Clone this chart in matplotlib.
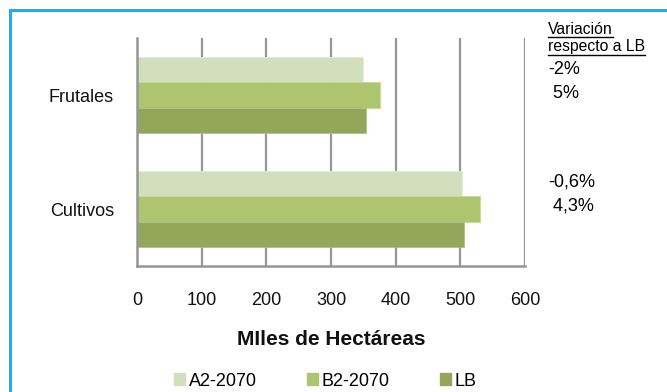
import numpy as np
import matplotlib.pyplot as plt
from matplotlib.patches import Patch, Rectangle
from matplotlib.lines import Line2D

plt.rcParams['font.family'] = ['Liberation Sans', 'DejaVu Sans']

# data
categories = ['Cultivos', 'Frutales']
series = ['A2-2070', 'B2-2070', 'LB']
a2_2070 = [502, 350]
b2_2070 = [531, 375]
lb = [506, 354]
variacion = [['-0,6%', ' 4,3%'], ['-2%', ' 5%']]
colors = ['#d2dfbc', '#adc56f', '#93a75a']
grey = '#969696'

fig = plt.figure(figsize=(6.67, 3.92), dpi=100)
ax = fig.add_axes([137 / 667, 1 - 266 / 392, 388 / 667, 228 / 392])

y = np.arange(len(categories))
h = 0.225
ax.barh(y + h, a2_2070, height=h, color=colors[0], edgecolor='#e4ecd6', linewidth=0.6, zorder=3)
ax.barh(y, b2_2070, height=h, color=colors[1], edgecolor='#c4d89a', linewidth=0.6, zorder=3)
ax.barh(y - h, lb, height=h, color=colors[2], edgecolor='#b0c284', linewidth=0.6, zorder=3)

ax.set_xlim(0, 600)
ax.set_ylim(-0.5, 1.5)
ax.set_xticks(range(0, 601, 100))
ax.set_yticks(y)
ax.set_yticklabels(categories)
ax.tick_params(axis='x', length=0, pad=19, labelsize=13, colors='#111111')
ax.tick_params(axis='y', length=0, pad=16.5, labelsize=13, colors='#111111')
ax.grid(axis='x', color=grey, linewidth=1.6, zorder=0)
for s in ['top', 'right']:
    ax.spines[s].set_visible(False)
for s in ['left', 'bottom']:
    ax.spines[s].set_color(grey)
    ax.spines[s].set_linewidth(1.8)
    ax.spines[s].set_zorder(4)

ax.set_xlabel('MIles de Hectáreas', fontsize=15, fontweight='bold', labelpad=15, color='#111111')

# variation notes
t1 = fig.text(548 / 667, 1 - 29 / 392, 'Variación', fontsize=11.3, va='center', ha='left')
t2 = fig.text(548 / 667, 1 - 47 / 392, 'respecto a LB', fontsize=11.3, va='center', ha='left')
fig.canvas.draw()
r = fig.canvas.get_renderer()
for t in [t1, t2]:
    bb = t.get_window_extent(r)
    yy = bb.y0 - 0.5
    fig.add_artist(Line2D([bb.x0, bb.x1], [yy, yy], transform=None, color='black', linewidth=1))

ypix = {1: (70, 93), 0: (182, 206)}
for i in range(len(categories)):
    for j, txt in enumerate(variacion[i]):
        fig.text(548 / 667, 1 - ypix[i][j] / 392, txt, fontsize=13, va='center', ha='left')

# legend
handles = [Patch(color=c) for c in colors]
fig.legend(handles, series, loc='center', bbox_to_anchor=(0.488, 1 - 381 / 392), ncol=3,
           frameon=False, fontsize=13, handlelength=0.6, handleheight=0.6,
           handletextpad=0.2, columnspacing=2.8)

# outer border
fig.add_artist(Rectangle((9.5 / 667, -0.05), 1.1, 1 - 9.5 / 392 + 0.05, transform=fig.transFigure,
                         fill=False, edgecolor='#00bcf5', linewidth=2.2, clip_on=False))

fig.savefig('out.png', dpi=100)
